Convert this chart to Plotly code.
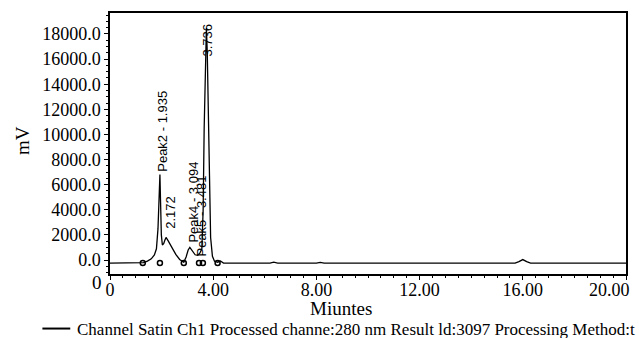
import plotly.graph_objects as go

# Chromatogram trace (minutes, mV)
time_min = [0.0, 1.20, 1.30, 1.45, 1.60, 1.72, 1.80, 1.86, 1.90, 1.935, 1.96, 1.99, 2.03,
            2.08, 2.13, 2.172, 2.25, 2.40, 2.55, 2.70, 2.86, 2.95, 3.03, 3.094, 3.18,
            3.30, 3.40, 3.481, 3.56, 3.61, 3.65, 3.69, 3.736, 3.77, 3.80, 3.84, 3.90,
            3.97, 4.05, 4.17, 4.28, 4.40, 6.20, 6.35, 6.50, 8.00, 8.15, 8.30, 15.70,
            15.85, 16.00, 16.15, 16.30, 20.0]
signal_mv = [-240, -240, -200, -80, 100, 400, 900, 2500, 5200, 6800, 4600, 2000, 1200,
             1300, 1600, 1800, 1550, 950, 450, 50, -170, 250, 800, 1000, 750,
             420, 380, 550, 900, 4000, 10500, 16000, 18500, 16500, 12500, 6000, 1800,
             300, -100, -170, -80, -240, -240, -170, -240, -240, -180, -240, -240,
             -120, 40, -120, -240, -240]

# Integration marks on the baseline
mark_t = [1.27, 1.935, 2.86, 3.45, 3.60, 4.17]
mark_v = [-240, -240, -240, -240, -240, -240]

# Peak labels: text, x (min), y (mV) of the label's lower end
label_text = ["Peak2 - 1.935", "2.172", "Peak4 - 3.094", "Peak5 - 3.481", "3.736"]
label_x = [2.05, 2.37, 3.22, 3.56, 3.80]
label_y = [6900, 2300, 1200, 150, 16000]

x_tickvals = [0, 4, 8, 12, 16, 20]
x_ticktext = ["0", "4.00", "8.00", "12.00", "16.00", ""]
x_last_label = "20.00"
y_tickvals = [0, 2000, 4000, 6000, 8000, 10000, 12000, 14000, 16000, 18000]
y_ticktext = ["0.0", "2000.0", "4000.0", "6000.0", "8000.0", "10000.0", "12000.0",
              "14000.0", "16000.0", "18000.0"]

legend_text = "Channel Satin Ch1 Processed channe:280 nm Result ld:3097 Processing Method:t"

SERIF = "Liberation Serif, Times New Roman, serif"
SANS = "Liberation Sans, Arial, sans-serif"

fig = go.Figure()
fig.add_trace(go.Scatter(x=time_min, y=signal_mv, mode="lines",
                         line=dict(color="black", width=1.3), showlegend=False,
                         hoverinfo="skip"))
fig.add_trace(go.Scatter(x=mark_t, y=mark_v, mode="markers",
                         marker=dict(symbol="circle-open", size=5, color="black",
                                     line=dict(width=1.5)),
                         showlegend=False, hoverinfo="skip"))

for t, xx, yy in zip(label_text, label_x, label_y):
    fig.add_annotation(x=xx, y=yy, xref="x", yref="y", text=t, showarrow=False,
                       textangle=-90, xanchor="center", yanchor="bottom",
                       font=dict(family=SANS, size=13, color="black"))

# last x tick label, pulled inside the page as in the reference
fig.add_annotation(x=1.0, y=-0.015, xref="paper", yref="paper", text=x_last_label,
                   showarrow=False, xanchor="right", yanchor="top", xshift=6,
                   font=dict(family=SERIF, size=18, color="black"))

# axis titles / legend as text
fig.add_annotation(x=0.448, y=-0.134, xref="paper", yref="paper", text="Miuntes",
                   showarrow=False, xanchor="center", yanchor="middle",
                   font=dict(family=SERIF, size=19, color="black"))
fig.add_annotation(x=-0.17, y=0.511, xref="paper", yref="paper", text="mV",
                   showarrow=False, textangle=-90, xanchor="center", yanchor="middle",
                   font=dict(family=SERIF, size=19, color="black"))
fig.add_annotation(x=-0.0676, y=-0.212, xref="paper", yref="paper", text=legend_text,
                   showarrow=False, xanchor="left", yanchor="middle",
                   font=dict(family=SERIF, size=17, color="black"))
fig.add_annotation(x=-0.012, y=-0.034, xref="paper", yref="paper", text="0",
                   showarrow=False, xanchor="right", yanchor="middle",
                   font=dict(family=SERIF, size=19, color="black"))
fig.add_shape(type="line", xref="paper", yref="paper", x0=-0.131, x1=-0.077,
              y0=-0.209, y1=-0.209, line=dict(color="black", width=2))

fig.update_xaxes(range=[0, 20], tickvals=x_tickvals, ticktext=x_ticktext,
                 showline=True, linecolor="black", linewidth=1.5, mirror=True,
                 ticks="outside", ticklen=4, tickcolor="black", showgrid=False,
                 zeroline=False, ticklabelstandoff=-5,
                 minor=dict(dtick=0.5, ticks="outside", ticklen=2, tickcolor="black"),
                 tickfont=dict(family=SERIF, size=18, color="black"))
fig.update_yaxes(range=[-1110, 19667], tickvals=y_tickvals, ticktext=y_ticktext,
                 showline=True, linecolor="black", linewidth=1.5, mirror=True,
                 ticks="outside", ticklen=4, tickcolor="black", showgrid=False,
                 zeroline=False,
                 minor=dict(dtick=500, ticks="outside", ticklen=2, tickcolor="black"),
                 tickfont=dict(family=SERIF, size=18, color="black"))

fig.update_layout(width=639, height=338, plot_bgcolor="white", paper_bgcolor="white",
                  margin=dict(l=110, r=11, t=12, b=64), showlegend=False)

fig.write_html("out.html", config={"displayModeBar": False},
               post_script="document.body.style.margin='0';document.body.style.overflow='hidden';")
